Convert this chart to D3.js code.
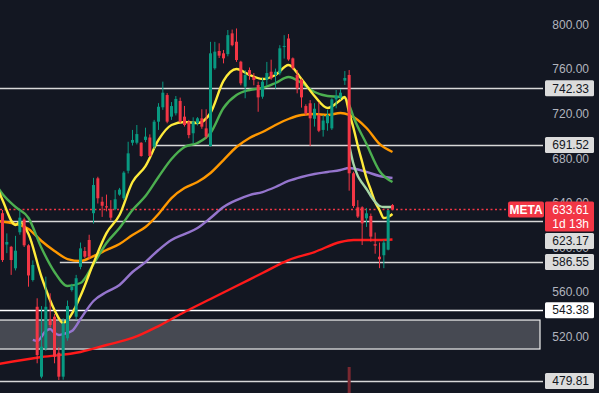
<!DOCTYPE html>
<html lang="en">
<head>
  <meta charset="UTF-8">
  <title>META daily</title>
  <style>
    html, body { margin: 0; padding: 0; background: #131722; }
    svg { display: block; }
    .tick text { font-family: "Liberation Sans", Arial, sans-serif; font-size: 12px; fill: #b2b5be; }
    .box text { font-family: "Liberation Sans", Arial, sans-serif; font-size: 12px; }
  </style>
</head>
<body>
<script src="https://cdnjs.cloudflare.com/ajax/libs/d3/7.8.5/d3.min.js"></script>
<script>
// daily candles, oldest first: [open, high, low, close]
var candles = [
  [630.3,633.2,586.6,588.3],[602.2,612.2,594.5,604.5],[600.2,601.0,575.0,588.3],[580.9,610.0,579.0,596.7],
  [613.2,633.2,611.0,626.3],[624.7,626.3,600.0,601.5],[601.5,602.5,564.4,574.5],[570.4,588.0,569.0,583.9],
  [546.4,554.0,495.7,503.1],[483.7,547.0,482.2,510.6],[509.1,573.4,507.0,546.4],[535.1,558.5,528.0,530.0],
  [537.5,540.0,495.7,501.6],[505.2,510.0,480.7,483.7],[483.7,536.0,481.0,531.5],[518.2,552.0,516.0,547.0],
  [561.4,567.0,560.0,564.4],[537.5,575.0,535.0,572.0],[582.2,604.0,580.0,598.8],[596.4,600.0,590.0,591.3],
  [606.3,611.0,589.0,591.3],[630.3,662.0,621.0,655.6],[661.6,663.0,639.0,643.7],[640.6,645.0,627.0,637.0],
  [636.5,647.0,632.0,635.5],[634.0,642.0,624.0,626.3],[634.0,651.0,633.0,642.8],[647.0,653.0,646.0,651.5],
  [643.7,668.0,642.0,666.7],[668.4,694.4,666.0,684.0],[693.5,705.0,691.0,696.0],[693.5,709.4,692.0,701.3],
  [693.5,694.0,681.0,681.6],[696.0,707.0,694.0,699.0],[698.2,701.0,681.0,681.6],[690.0,714.0,688.0,712.4],
  [712.4,729.0,705.0,725.8],[725.3,748.3,723.0,738.4],[736.3,738.0,711.0,712.4],[716.9,730.0,714.0,726.4],
  [719.9,735.4,718.0,732.8],[731.0,734.0,711.0,712.4],[716.9,726.5,708.0,709.4],[712.4,714.0,697.5,700.4],
  [702.0,716.3,693.0,712.4],[710.9,716.5,709.0,715.4],[715.4,723.5,706.0,707.9],[706.4,723.5,697.0,699.0],
  [690.6,784.0,690.0,773.7],[760.3,784.0,759.0,775.2],[775.8,782.7,769.5,771.6],[773.7,776.7,764.7,769.2],
  [773.0,794.6,771.0,790.0],[791.6,795.0,780.0,781.0],[784.1,796.0,766.0,767.7],[766.2,767.0,745.0,746.8],
  [743.8,758.7,733.4,754.3],[758.7,761.0,750.0,754.3],[752.7,756.0,745.0,749.8],[745.3,748.3,721.3,734.2],
  [734.8,751.7,733.0,748.3],[750.0,766.0,745.0,756.0],[757.2,768.0,750.0,751.3],[754.3,760.0,742.0,757.2],
  [755.8,781.0,754.0,778.2],[779.5,790.0,769.0,780.3],[787.0,791.0,767.0,768.2],[769.2,770.0,759.0,760.3],
  [754.3,758.7,737.8,742.3],[749.8,751.0,725.0,734.2],[726.4,728.0,718.0,719.9],[728.9,731.8,690.6,715.4],
  [715.0,729.0,708.0,724.0],[718.4,730.0,703.0,704.3],[705.0,718.4,699.0,713.4],[711.0,722.9,704.3,718.4],
  [706.4,733.4,705.0,732.4],[732.4,740.8,724.4,735.4],[734.2,741.7,732.0,738.4],[749.2,757.8,745.3,751.6],
  [754.3,758.7,650.5,666.1],[666.1,667.5,635.0,636.8],[635.6,642.0,626.0,627.3],[635.6,636.5,601.8,621.2],
  [625.7,635.0,618.0,630.2],[627.8,630.0,604.8,609.3],[602.5,613.0,594.0,601.2],[591.3,604.0,581.0,589.0],
  [592.6,606.3,581.0,604.0],[597.6,633.5,597.0,632.9],[637.6,638.5,633.0,633.61]
];

// moving averages: [candle index, value]
var maYellow = [[-1,651.1],[0,642.1],[3,619.7],[4,622.4],[6,611.6],[9,573.1],[12,543.5],[14,531.8],[15,534.5],
  [18,556.1],[21,585.6],[24,612.5],[27,628.7],[30,658.3],[33,672.6],[36,696.0],[39,709.4],[42,712.1],[45,711.2],
  [48,720.2],[51,748.9],[54,759.6],[57,754.3],[60,750.7],[63,754.3],[66,763.2],[69,750.7],[72,735.4],[75,724.7],
  [78,731.8],[79,734.5],[80,720.2],[81,706.7],[82,690.6],[83,676.2],[84,661.9],[85,651.1],[86,640.4],[87,633.2],
  [88,626.0],[89,626.9],[90,629.6]];
var maGreen = [[-1,652.9],[0,647.5],[3,635.9],[6,626.0],[9,599.1],[12,577.6],[15,565.0],[18,567.7],[21,584.7],
  [24,603.6],[27,617.0],[30,633.2],[33,645.7],[36,662.8],[39,678.9],[42,689.7],[45,693.3],[48,702.2],[51,724.7],
  [54,736.3],[57,740.8],[60,742.6],[63,747.1],[66,752.5],[69,747.1],[72,739.0],[75,735.4],[78,734.5],[79,733.6],
  [80,727.4],[81,716.6],[84,692.4],[87,668.2],[90,658.3]];
var maOrange = [[-1,623.3],[3,620.6],[6,616.1],[9,605.4],[12,596.4],[15,589.2],[18,587.4],[21,591.9],[24,597.3],
  [27,602.7],[30,610.8],[33,617.9],[36,629.6],[39,643.9],[42,652.9],[45,658.3],[48,666.4],[51,678.0],[54,689.7],
  [57,697.8],[60,703.1],[63,709.4],[66,714.8],[69,718.4],[72,719.3],[75,718.4],[78,720.2],[80,718.4],[84,706.7],
  [87,692.4],[90,685.2]];
var maPurple = [[7,516.6],[8,515.7],[10,524.6],[11,526.4],[12,522.9],[13,521.1],[14,522.0],[16,524.6],[18,535.4],
  [21,551.6],[24,559.6],[27,565.9],[30,577.6],[33,586.5],[36,597.3],[39,606.3],[42,611.6],[45,617.0],[48,626.0],
  [51,635.9],[54,642.1],[57,646.6],[60,649.3],[63,653.8],[66,659.2],[69,662.8],[72,665.5],[75,667.3],[78,669.1],
  [80,670.9],[84,667.3],[87,663.7],[90,661.9]];
var maRed = [[-1,495.0],[9,501.3],[18,505.8],[24,512.1],[30,518.4],[36,529.1],[42,541.7],[48,553.4],[54,565.0],
  [60,576.7],[66,588.3],[72,595.5],[78,604.5],[81,606.3],[87,606.3],[90,606.7]];
var vwapAnchored = [[80,691.5],[81,674.4],[82,663.7],[83,657.4],[84,652.0],[85,645.7],[86,640.4],[87,636.8],
  [88,635.9],[89,635.9],[90,635.9]];

var levels = [742.33, 691.52, 623.17, 586.55, 543.38, 479.81];
var levelFrom = [null, 35, null, 13, null, null]; // candle index where a level starts
var zone = [508.5, 534.5];
var priceTicks = [520, 560, 600, 640, 680, 720, 760, 800];
var lastPrice = 633.61, symbol = "META", countdown = "1d 13h";
var spikeIndex = 80; // the one volume bar that rises into view

var width = 599, height = 393, plotRight = 543;

var x = d3.scaleLinear().domain([0, candles.length - 1]).range([2.5, 392.5]);
var y = d3.scaleLinear().domain([520, 800]).range([336.2, 24]);

var svg = d3.select("body").append("svg").attr("width", width).attr("height", height);
svg.append("rect").attr("width", width).attr("height", height).attr("fill", "#131722");

svg.append("defs").append("clipPath").attr("id", "clip")
  .append("rect").attr("width", plotRight).attr("height", height);
var plot = svg.append("g").attr("clip-path", "url(#clip)");

// grey zone
plot.append("rect")
  .attr("x", -2).attr("y", y(zone[1]))
  .attr("width", 542).attr("height", y(zone[0]) - y(zone[1]))
  .attr("fill", "#464952").attr("stroke", "#f0f0f0").attr("stroke-width", 1.2);

// level lines
plot.selectAll(".level").data(levels).join("line")
  .attr("x1", function (d, i) { return levelFrom[i] == null ? 0 : x(levelFrom[i]) + 1; })
  .attr("x2", plotRight)
  .attr("y1", function (d) { return Math.round(y(d)) + 0.5; })
  .attr("y2", function (d) { return Math.round(y(d)) + 0.5; })
  .attr("stroke", function (d) { return d === 543.38 ? "#ffffff" : "#d8d8d8"; })
  .attr("stroke-width", 1.3);

// last price dotted line
plot.append("line")
  .attr("x1", 0).attr("x2", 508)
  .attr("y1", y(lastPrice)).attr("y2", y(lastPrice))
  .attr("stroke", "#f23645").attr("stroke-width", 1.5).attr("stroke-dasharray", "2,2.5");

// volume spike
var vy = d3.scaleLinear().domain([0, 1]).range([height, 367]);
plot.append("rect")
  .attr("x", x(spikeIndex) - 1.5).attr("width", 3)
  .attr("y", vy(1)).attr("height", vy(0) - vy(1))
  .attr("fill", "#7a2830");

// moving averages
var line = d3.line().curve(d3.curveMonotoneX)
  .x(function (d) { return x(d[0]); })
  .y(function (d) { return y(d[1]); });

[[maRed, "#ff1a1a"], [maPurple, "#9575cd"], [maOrange, "#ff9800"],
 [maGreen, "#4caf50"], [maYellow, "#ffeb3b"], [vwapAnchored, "#a5d6a7"]].forEach(function (s) {
  plot.append("path").datum(s[0])
    .attr("d", line).attr("fill", "none")
    .attr("stroke", s[1]).attr("stroke-width", 2.4);
});

// candles
var up = "#089981", down = "#f23645";
var c = plot.selectAll(".candle").data(candles).join("g");
c.append("line")
  .attr("x1", function (d, i) { return x(i); }).attr("x2", function (d, i) { return x(i); })
  .attr("y1", function (d) { return y(d[1]); }).attr("y2", function (d) { return y(d[2]); })
  .attr("stroke", function (d) { return d[3] >= d[0] ? up : down; }).attr("stroke-width", 1);
c.append("rect")
  .attr("x", function (d, i) { return x(i) - 1.5; }).attr("width", 3)
  .attr("y", function (d) { return y(Math.max(d[0], d[3])); })
  .attr("height", function (d) { return Math.max(1, Math.abs(y(d[0]) - y(d[3]))); })
  .attr("fill", function (d) { return d[3] >= d[0] ? up : down; });

// price axis
var axis = svg.append("g").attr("class", "tick")
  .attr("transform", "translate(589,0)")
  .call(d3.axisRight(y).tickValues(priceTicks).tickSize(0).tickPadding(0).tickFormat(d3.format(".2f")));
axis.select(".domain").remove();
axis.selectAll("text").attr("text-anchor", "end").attr("dy", "0.36em");

// level labels
var boxes = svg.append("g").attr("class", "box");
function labelBox(price, cy, bg) {
  var g = boxes.append("g");
  g.append("rect").attr("x", 545).attr("y", cy - 8).attr("width", 49).attr("height", 16)
    .attr("rx", 1.5).attr("fill", bg);
  g.append("text").attr("x", 589).attr("y", cy).attr("dy", "0.36em")
    .attr("text-anchor", "end").attr("fill", "#131722").text(d3.format(".2f")(price));
}
levels.forEach(function (p) {
  var cy = y(p);
  if (p === 623.17) cy = 241; // pushed below the last price tag
  labelBox(p, cy, p === 543.38 ? "#ffffff" : "#dcdcdc");
});

// last price tag
var ly = y(lastPrice);
boxes.append("rect").attr("x", 508).attr("y", ly - 8).attr("width", 36).attr("height", 16)
  .attr("rx", 2).attr("fill", down);
boxes.append("text").attr("x", 526).attr("y", ly).attr("dy", "0.36em").attr("text-anchor", "middle")
  .attr("fill", "#ffffff").attr("font-weight", "bold").text(symbol);
boxes.append("rect").attr("x", 545).attr("y", ly - 8).attr("width", 49).attr("height", 30)
  .attr("rx", 1.5).attr("fill", down);
boxes.append("text").attr("x", 589).attr("y", ly).attr("dy", "0.36em").attr("text-anchor", "end")
  .attr("fill", "#ffffff").text(d3.format(".2f")(lastPrice));
boxes.append("text").attr("x", 589).attr("y", ly + 14).attr("dy", "0.36em").attr("text-anchor", "end")
  .attr("fill", "#ffffff").text(countdown);
</script>
</body>
</html>
